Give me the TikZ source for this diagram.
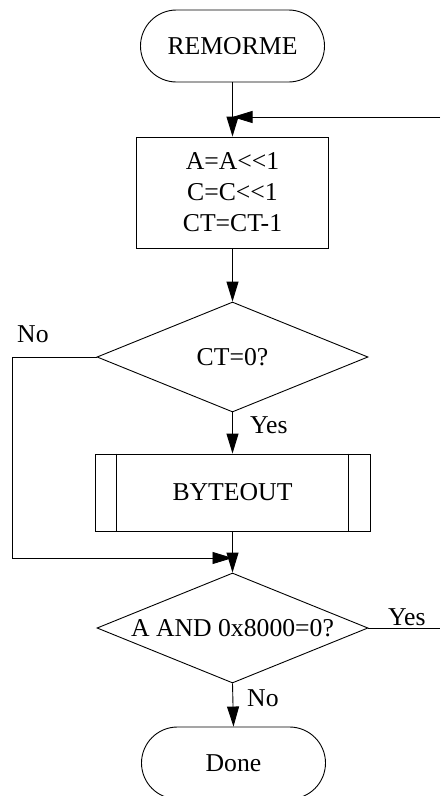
\documentclass[tikz,border=0pt]{standalone}
\usepackage{fontspec}
\setmainfont{Liberation Serif}
\usetikzlibrary{arrows.meta,shapes.geometric,calc}
\begin{document}
\begin{tikzpicture}[x=1pt,y=-1pt,
  every node/.style={font=\fontsize{25.7}{31}\selectfont},
  line/.style={line width=0.9pt},
  arr/.style={line width=0.9pt,-{Triangle[length=20pt,width=12pt]}},
  terminal/.style={draw,line width=0.9pt,rectangle,rounded corners=36pt,
    minimum width=184pt,minimum height=72pt,inner sep=0pt},
  procbox/.style={draw,line width=0.9pt,rectangle,align=center,inner sep=0pt},
  decision/.style={draw,line width=0.9pt,diamond,aspect=2.46,inner sep=0pt,
    minimum width=271pt,minimum height=110pt},
  label/.style={anchor=base west,inner sep=0pt}
]
\useasboundingbox (0,0) rectangle (440,796);
\clip (0,0) rectangle (440,796);

% blocks
\node[terminal] (start) at (232.5,46) {REMORME};
\node[procbox,minimum width=192pt,minimum height=111pt] (shift) at (232.5,192.5)
  {A=A<\kern0pt<1\\C=C<\kern0pt<1\\CT=CT-1};
\node[decision] (test1) at (232.5,357) {CT=0?};
\node[procbox,minimum width=275pt,minimum height=77pt] (byte) at (232.5,492.5) {BYTEOUT};
\draw[line] ($(byte.north west)+(22,0)$) -- ($(byte.south west)+(22,0)$);
\draw[line] ($(byte.north east)+(-22,0)$) -- ($(byte.south east)+(-22,0)$);
\node[decision] (test2) at (232.5,628) {A AND 0x8000=0?};
\node[terminal] (done) at (233.5,763) {Done};

% labels
\node[label] (no1) at (17,342) {No};
\node[label] (yes1) at (250,433) {Yes};
\node[label] (yes2) at (388,625) {Yes};
\node[label] (no2) at (247,706) {No};

% helper points
\coordinate (loopin) at (440,117);
\coordinate (rail) at (12,0);
\coordinate (merge) at (232.5,558);
\coordinate (exit) at (440,628);

% connectors
\draw[arr] (start.south) -- (shift.north);
\draw[arr] (loopin) -- (loopin -| shift.north);
\draw[arr] (shift.south) -- (test1.north);
\draw[arr] (test1.west) -- (test1.west -| rail) |- (merge);
\draw[arr] (test1.south) -- (byte.north);
\draw[arr] (byte.south) -- (test2.north);
\draw[line] (test2.east) -- (exit);
\draw[arr] (test2.south) -- (done.north);
\end{tikzpicture}
\end{document}
